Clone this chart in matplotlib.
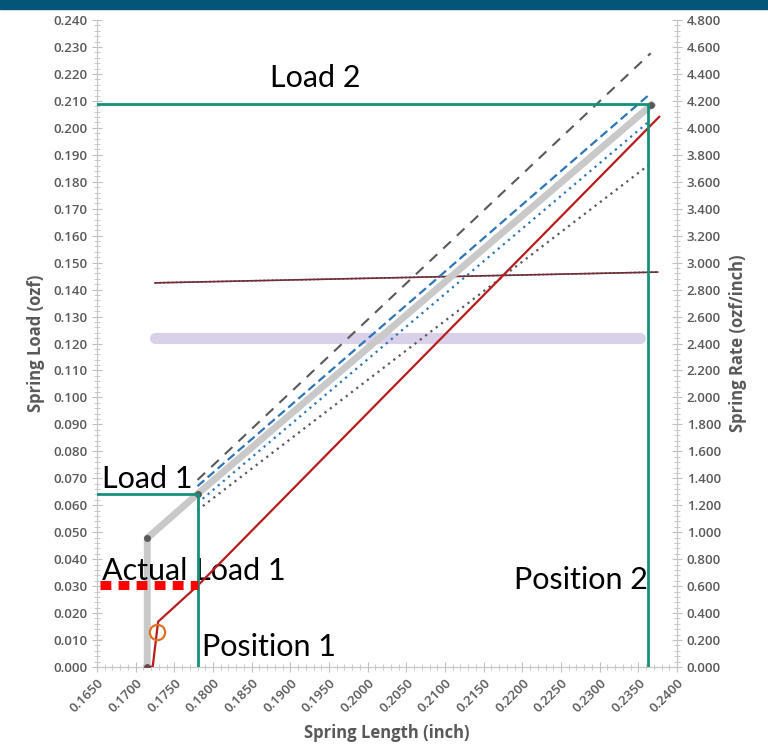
import matplotlib.pyplot as plt
from matplotlib.patches import Rectangle
from matplotlib.ticker import MultipleLocator, FormatStrFormatter

# spring length (inch) / load (ozf) readings
gray_x = [0.1715, 0.1715, 0.1780, 0.2367]
gray_y = [0.0, 0.0478, 0.0642, 0.2085]

red_x = [0.1714, 0.1722, 0.1729, 0.1781, 0.2377]
red_y = [0.0, 0.0, 0.0168, 0.0304, 0.2041]

circle_x = [0.1728]
circle_y = [0.0131]

# tolerance lines (start at position 1, end at position 2)
tol_x = [0.1780, 0.2366]
max_dashed_y = [0.0694, 0.2277]
blue_dashed_y = [0.0671, 0.2128]
blue_dotted_y = [0.0608, 0.2029]
min_dotted_y = [0.0582, 0.1868]

# spring rate (ozf/inch), right axis
rate_x = [0.1725, 0.2375]
rate_meas = [2.85, 2.93]
rate_nom_x = [0.1725, 0.2352]
rate_nom = [2.44, 2.44]

pos1 = 0.1780
pos2 = 0.2363
load1 = 0.0642
load2 = 0.2088
actual_load1 = 0.0304

grey = '#595959'
green = '#16907a'

fig = plt.figure(figsize=(7.68, 7.53), dpi=100)
fig.patches.append(Rectangle((0, 0.988), 1, 0.012, transform=fig.transFigure,
                             color='#04557a', zorder=0))
ax = fig.add_axes([0.1263, 0.1142, 0.7552, 0.8592])
ax2 = ax.twinx()

ax.set_xlim(0.1650, 0.2400)
ax.set_ylim(0, 0.240)
ax2.set_ylim(0, 4.8)

# rate lines
ax2.plot(rate_nom_x, rate_nom, color='#d9d0ea', lw=8, solid_capstyle='round', zorder=1)
ax2.plot(rate_x, rate_meas, color='#8b2030', lw=1.2, zorder=2)
ax2.plot(rate_x, rate_meas, color='#444444', lw=1.2, ls=(0, (1, 1.5)), zorder=3)

ax.set_zorder(ax2.get_zorder() + 1)
ax.patch.set_visible(False)

# load lines
ax.plot(gray_x, gray_y, color='#c9c9c9', lw=5, zorder=2)
ax.plot(gray_x, gray_y, ls='none', marker='o', ms=4, color=grey, zorder=3)
ax.plot(tol_x, max_dashed_y, color=grey, lw=1.5, dashes=(5, 4), zorder=3)
ax.plot(tol_x, blue_dashed_y, color='#2e75b6', lw=1.6, dashes=(4, 2), zorder=3)
ax.plot(tol_x, blue_dotted_y, color='#2e75b6', lw=1.6, dashes=(1, 2), zorder=3)
ax.plot(tol_x, min_dotted_y, color=grey, lw=1.6, dashes=(1, 2), zorder=3)
ax.plot(red_x, red_y, color='#b81c1c', lw=1.6, zorder=4)
ax.plot(circle_x, circle_y, ls='none', marker='o', ms=11, mfc='none',
        mec='#e07020', mew=1.6, zorder=5)

# position / load markers
ax.plot([0.1650, pos1, pos1], [load1, load1, 0], color=green, lw=2, zorder=5)
ax.plot([0.1650, pos2, pos2], [load2, load2, 0], color=green, lw=2, zorder=5)
ax.plot([0.1654, pos1], [actual_load1, actual_load1], color='#ff0000', lw=6.5,
        dashes=(1.2, 0.8), zorder=5)

tfont = dict(family='Lato', fontsize=22, color='black')
ax.text(0.1874, 0.2150, 'Load 2', **tfont)
ax.text(0.1657, 0.0665, 'Load 1', **tfont)
ax.text(0.1657, 0.0322, 'Actual Load 1', **tfont)
ax.text(0.1786, 0.0040, 'Position 1', **tfont)
ax.text(0.2189, 0.0290, 'Position 2', **tfont)

# axes styling
for a in (ax, ax2):
    for s in a.spines.values():
        s.set_color('#c8c8c8')
    a.spines['top'].set_visible(False)
    a.tick_params(which='both', direction='inout', color='#bfbfbf',
                  labelcolor=grey, labelsize=9.5)
    a.tick_params(which='major', length=7)
    a.tick_params(which='minor', length=4)

ax.xaxis.set_major_locator(MultipleLocator(0.005))
ax.xaxis.set_minor_locator(MultipleLocator(0.001))
ax.xaxis.set_major_formatter(FormatStrFormatter('%.4f'))
ax.yaxis.set_major_locator(MultipleLocator(0.010))
ax.yaxis.set_minor_locator(MultipleLocator(0.002))
ax.yaxis.set_major_formatter(FormatStrFormatter('%.3f'))
ax2.yaxis.set_major_locator(MultipleLocator(0.2))
ax2.yaxis.set_minor_locator(MultipleLocator(0.04))
ax2.yaxis.set_major_formatter(FormatStrFormatter('%.3f'))

for lbl in ax.get_xticklabels():
    lbl.set_rotation(45)
    lbl.set_ha('right')
    lbl.set_rotation_mode('anchor')
for lbl in ax.get_xticklabels() + ax.get_yticklabels() + ax2.get_yticklabels():
    lbl.set_family('Open Sans')
    lbl.set_fontweight('semibold')

lfont = dict(family='Open Sans', fontsize=12, fontweight='bold', color=grey)
ax.set_xlabel('Spring Length (inch)', labelpad=6, **lfont)
ax.set_ylabel('Spring Load (ozf)', labelpad=6, **lfont)
ax2.set_ylabel('Spring Rate (ozf/inch)', labelpad=6, **lfont)

fig.savefig('out.png', dpi=100)
